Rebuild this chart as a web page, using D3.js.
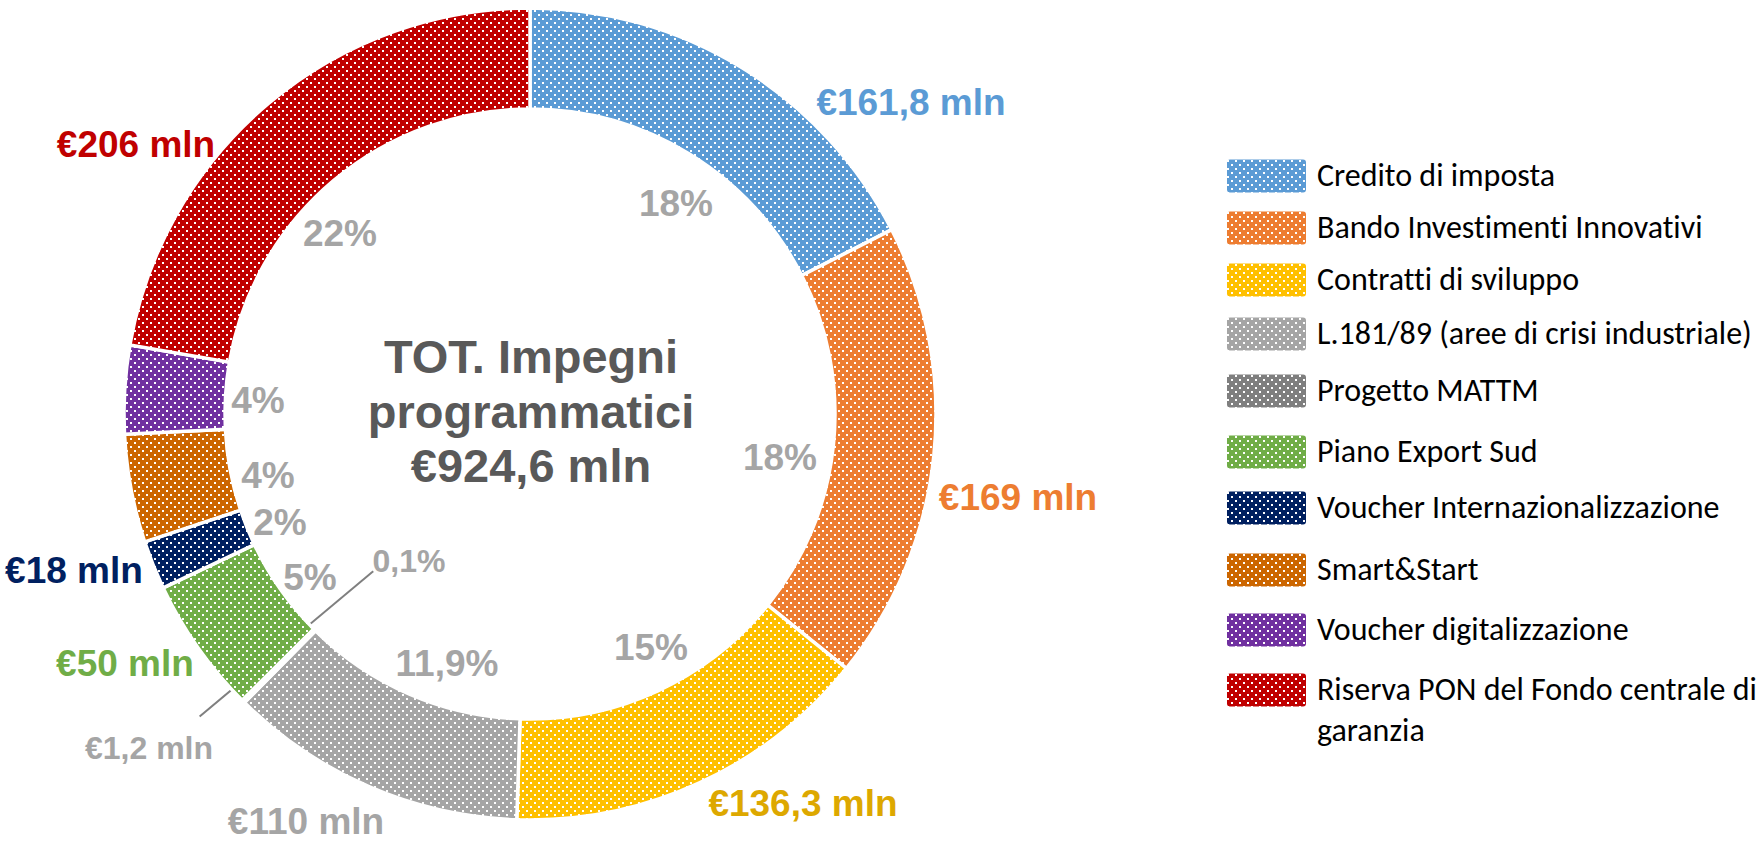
<html>
<head>
	<meta charset='utf-8' />
	<title>Impegni programmatici</title>
	<script src="https://d3js.org/d3.v7.min.js"></script>
	<style>
	body { margin: 0; background: #fff; }
	.lbl { font-family: "Liberation Sans", Arial, sans-serif; font-weight: bold; }
	.leg { font-family: Carlito, Calibri, Lato, sans-serif; fill: #000; font-variant-ligatures: none; font-feature-settings: "liga" 0, "clig" 0; }
	</style>
</head>
<body>
<script>

	// data (mln €)
	var categories = ["Credito di imposta", "Bando Investimenti Innovativi", "Contratti di sviluppo",
		"L.181/89 (aree di crisi industriale)", "Progetto MATTM", "Piano Export Sud",
		"Voucher Internazionalizzazione", "Smart&Start", "Voucher digitalizzazione",
		"Riserva PON del Fondo centrale di garanzia"];
	var values = [161.8, 169, 136.3, 110, 1.2, 50, 18, 39.8, 32.5, 206];
	var colors = ["#5B9BD5", "#ED7D31", "#FFC000", "#A5A5A5", "#7F7F7F", "#70AD47",
		"#002060", "#CC6600", "#7030A0", "#C00000"];
	var valueLabels = ["€161,8 mln", "€169 mln", "€136,3 mln", "€110 mln", "€1,2 mln",
		"€50 mln", "€18 mln", "", "", "€206 mln"];
	var valueColors = ["#5B9BD5", "#ED7D31", "#DDA800", "#A5A5A5", "#A5A5A5", "#70AD47",
		"#002060", "", "", "#C00000"];
	var pctLabels = ["18%", "18%", "15%", "11,9%", "0,1%", "5%", "2%", "4%", "4%", "22%"];
	var totalLines = ["TOT. Impegni", "programmatici", "€924,6 mln"];

	// label placement (offset from the donut centre)
	var valuePos = [[381,-312],[488,83],[273,389],[-224,407],[-381,333],[-405,249],[-456,156],null,null,[-394,-270]];
	var pctPos = [[146,-211],[250,43],[121,233],[-83,249],[-121,146],[-220,163],[-250,108],[-262,61],[-272,-14],[-190,-181]];
	var legendY = [176, 228, 280, 334, 391, 452, 508, 570, 630, 690];

	var W = 1758, H = 844;
	var cx = 530, cy = 414, rOuter = 406, rInner = 305;

	var svg = d3.select("body").append("svg")
		.attr("width", W)
		.attr("height", H);

	// dotted fill patterns
	var defs = svg.append("defs");
	colors.forEach(function(c, i) {
		var p = defs.append("pattern")
			.attr("id", "pat" + i)
			.attr("patternUnits", "userSpaceOnUse")
			.attr("width", 8).attr("height", 8);
		p.append("rect").attr("width", 8).attr("height", 8).attr("fill", c);
		p.append("rect").attr("x", 0).attr("y", 0).attr("width", 2).attr("height", 2).attr("fill", "#fff");
		p.append("rect").attr("x", 4).attr("y", 4).attr("width", 2).attr("height", 2).attr("fill", "#fff");
	});

	var g = svg.append("g").attr("transform", "translate(" + cx + "," + cy + ")");

	var pie = d3.pie().sort(null).value(function(d) { return d; });
	var arcs = pie(values);

	var arc = d3.arc().innerRadius(rInner).outerRadius(rOuter);

	// leader line for the tiny slice (under the ring)
	var mattm = arcs[4];
	var mid = (mattm.startAngle + mattm.endAngle) / 2;
	g.append("line")
		.attr("x1", d3.pointRadial(mid, 222)[0])
		.attr("y1", d3.pointRadial(mid, 222)[1])
		.attr("x2", d3.pointRadial(mid + 0.045, 448)[0])
		.attr("y2", d3.pointRadial(mid + 0.045, 448)[1])
		.attr("stroke", "#7F7F7F")
		.attr("stroke-width", 2);

	g.selectAll("path.slice")
		.data(arcs)
		.enter().append("path")
		.attr("class", "slice")
		.attr("d", arc)
		.attr("fill", function(d, i) { return "url(#pat" + i + ")"; })
		.attr("stroke", "#fff")
		.attr("stroke-width", 3.5);

	// percentages inside the hole
	g.selectAll("text.pct")
		.data(arcs)
		.enter().append("text")
		.attr("class", "lbl pct")
		.attr("x", function(d, i) { return pctPos[i][0]; })
		.attr("y", function(d, i) { return pctPos[i][1]; })
		.attr("dy", "0.36em")
		.attr("text-anchor", "middle")
		.attr("font-size", function(d, i) { return i == 4 ? 32 : 37; })
		.attr("fill", "#A5A5A5")
		.text(function(d, i) { return pctLabels[i]; });

	// amounts outside the ring
	g.selectAll("text.val")
		.data(arcs.filter(function(d, i) { return valuePos[i]; }))
		.enter().append("text")
		.attr("class", "lbl val")
		.attr("x", function(d) { return valuePos[d.index][0]; })
		.attr("y", function(d) { return valuePos[d.index][1]; })
		.attr("dy", "0.36em")
		.attr("text-anchor", "middle")
		.attr("font-size", function(d) { return d.index == 4 ? 32 : 37; })
		.attr("fill", function(d) { return valueColors[d.index]; })
		.text(function(d) { return valueLabels[d.index]; });

	// total in the centre
	g.selectAll("text.tot")
		.data(totalLines)
		.enter().append("text")
		.attr("class", "lbl tot")
		.attr("x", 1)
		.attr("y", function(d, i) { return -41 + i * 54.5; })
		.attr("text-anchor", "middle")
		.attr("font-size", 47)
		.attr("fill", "#595959")
		.text(function(d) { return d; });

	// legend
	var leg = svg.append("g");
	var rows = leg.selectAll("g.row")
		.data(categories)
		.enter().append("g")
		.attr("class", "row")
		.attr("transform", function(d, i) { return "translate(1227," + legendY[i] + ")"; });

	rows.append("rect")
		.attr("x", 0).attr("y", -16.5)
		.attr("width", 79).attr("height", 33)
		.attr("rx", 3)
		.attr("fill", function(d, i) { return "url(#pat" + i + ")"; });

	var legText = rows.append("text")
		.attr("class", "leg")
		.attr("x", 90)
		.attr("y", 10)
		.attr("font-size", 32);

	// fit substitute font to the original text width
	var probe = legText.filter(function(d, i) { return i == 3; }).text(function(d) { return d; });
	var fs = 32 * 435 / probe.node().getComputedTextLength();
	legText.attr("font-size", fs);

	legText.each(function(d) {
		var t = d3.select(this).text(null);
		var words = d.split(" "), line = [];
		var ts = t.append("tspan").attr("x", 90).attr("dy", 0);
		words.forEach(function(w) {
			line.push(w);
			ts.text(line.join(" "));
			if (ts.node().getComputedTextLength() > 442 && line.length > 1) {
				line.pop();
				ts.text(line.join(" "));
				line = [w];
				ts = t.append("tspan").attr("x", 90).attr("dy", 41).text(w);
			}
		});
	});

</script>
</body>
</html>
